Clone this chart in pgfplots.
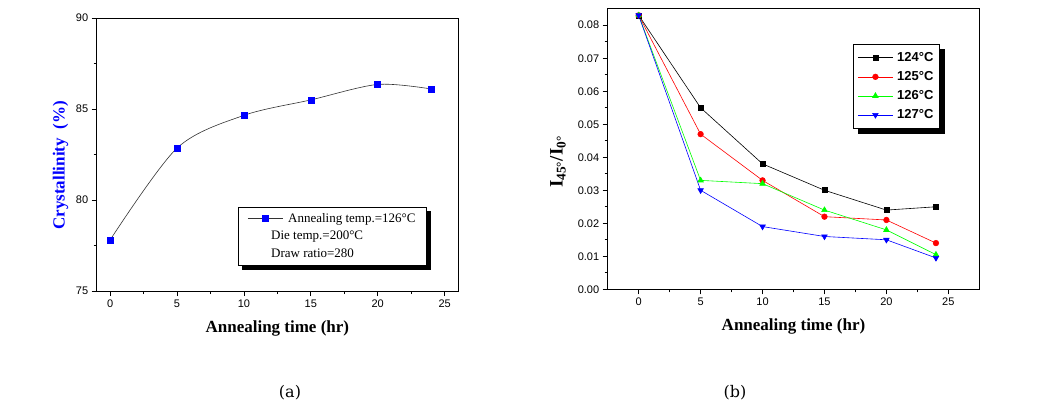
\documentclass[border=0pt]{standalone}
\usepackage{fontspec}
\setmainfont{Liberation Serif}
\newfontfamily\arial{Liberation Sans}
\newfontfamily\capfont{DejaVu Serif}
\usepackage{pgfplots}
\pgfplotsset{compat=1.18}
\pgfdeclarelayer{shadowlayer}
\pgfsetlayers{shadowlayer,main}

\begin{document}
\begin{tikzpicture}
\path[use as bounding box] (0pt,0pt) rectangle (1055pt,408pt);
\pgfplotsset{
 every axis/.append style={
  scale only axis, anchor=south west,
  axis line style={line width=0.8pt},
  tick align=outside, xtick pos=left, ytick pos=left,
  major tick length=5pt, minor tick length=3pt,
  every tick/.style={black, line width=0.7pt},
  tick label style={font=\arial\fontsize{11}{13}\selectfont},
  /pgf/number format/assume math mode=true,
  label style={font=\bfseries\fontsize{17}{20}\selectfont},
  legend cell align=left,
  legend image code/.code={\draw[mark repeat=2,mark phase=2] plot coordinates {(0pt,0pt) (17.5pt,0pt) (35pt,0pt)};},
 }
}
% ---------------- (a)
\begin{axis}[at={(96.7pt,117pt)}, width=361.3pt, height=273pt,
  xmin=-1, xmax=26, ymin=75, ymax=90,
  xtick={0,5,10,15,20,25}, ytick={75,80,85,90},
  minor x tick num=1, minor y tick num=1,
  xlabel={Annealing time (hr)}, ylabel={Crystallinity\ \ (\%)},
  xlabel style={at={(axis description cs:0.5,-0.1355)}, anchor=center},
  ylabel style={blue, at={(axis description cs:-0.1,0.46)}, anchor=center},
  legend style={name=lega, at={(0.914,0.308)}, anchor=north east, draw=black, line width=0.8pt, fill=white,
    font=\fontsize{13}{15}\selectfont, inner xsep=9pt, inner ysep=4pt, row sep=3.5pt,
    column sep=3pt},
]
\addplot[smooth, color=black!80, line width=0.6pt, mark=square*, mark size=3pt,
  mark options={blue, fill=blue, solid}]
  coordinates {(0,77.8) (5,82.85) (10,84.65) (15,85.5) (20,86.35) (24,86.1)};
\addlegendentry{Annealing temp.=126°C}
\addlegendimage{empty legend}
\addlegendentry{\hspace*{-17pt}Die temp.=200°C}
\addlegendimage{empty legend}
\addlegendentry{\hspace*{-17pt}Draw ratio=280}
\end{axis}
% ---------------- (b)
\begin{axis}[at={(607.7pt,118.7pt)}, width=371.6pt, height=280.6pt,
  xmin=-2.5, xmax=27.5, ymin=0, ymax=0.085,
  xtick={0,5,10,15,20,25}, ytick={0,0.01,0.02,0.03,0.04,0.05,0.06,0.07,0.08},
  minor x tick num=1, minor y tick num=1,
  scaled y ticks=false,
  yticklabel style={/pgf/number format/.cd, fixed, fixed zerofill, precision=2},
  xlabel={Annealing time (hr)}, ylabel={I\textsubscript{45°}/I\textsubscript{0°}},
  xlabel style={at={(axis description cs:0.5,-0.131)}, anchor=center},
  ylabel style={at={(axis description cs:-0.134,0.454)}, anchor=center, font=\bfseries\fontsize{19}{22}\selectfont},
  legend style={name=legb, at={(0.894,0.874)}, anchor=north east, draw=black, line width=0.8pt, fill=white,
    font=\arial\bfseries\fontsize{13}{15}\selectfont, inner xsep=4pt, inner ysep=6pt, row sep=4.5pt,
    column sep=2pt},
]
\addplot[color=black, line width=0.6pt, mark=square*, mark size=2.5pt, mark options={solid}]
  coordinates {(0,0.083) (5,0.055) (10,0.038) (15,0.030) (20,0.024) (24,0.025)};
\addlegendentry{124°C}
\addplot[color=red, line width=0.6pt, mark=*, mark size=2.8pt, mark options={solid}]
  coordinates {(0,0.083) (5,0.047) (10,0.033) (15,0.022) (20,0.021) (24,0.014)};
\addlegendentry{125°C}
\addplot[color=green, line width=0.6pt, mark=triangle*, mark size=3.2pt, mark options={solid}]
  coordinates {(0,0.083) (5,0.033) (10,0.032) (15,0.024) (20,0.018) (24,0.0105)};
\addlegendentry{126°C}
\addplot[color=blue, line width=0.6pt, mark=triangle*, mark size=3.2pt, mark options={solid, rotate=180}]
  coordinates {(0,0.083) (5,0.030) (10,0.019) (15,0.016) (20,0.015) (24,0.0095)};
\addlegendentry{127°C}
\end{axis}
\begin{pgfonlayer}{shadowlayer}
\fill[black] ([shift={(4pt,-4pt)}]lega.south west) rectangle ([shift={(4pt,-4pt)}]lega.north east);
\fill[black] ([shift={(5pt,-5pt)}]legb.south west) rectangle ([shift={(5pt,-5pt)}]legb.north east);
\end{pgfonlayer}
\node[font=\capfont\fontsize{16}{18}\selectfont] at (290pt,15pt) {(a)};
\node[font=\capfont\fontsize{16}{18}\selectfont] at (735pt,15pt) {(b)};
\end{tikzpicture}
\end{document}
